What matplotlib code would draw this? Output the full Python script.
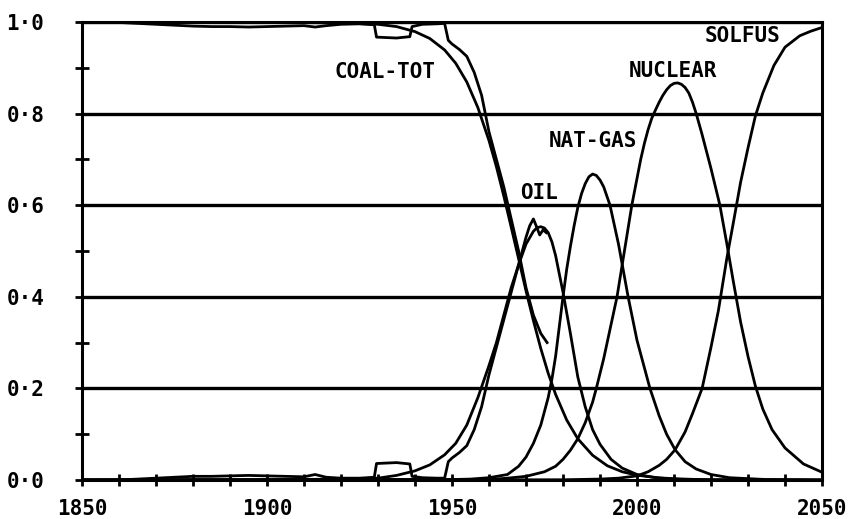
import matplotlib
matplotlib.use("Agg")
import matplotlib.pyplot as plt
from matplotlib.ticker import MultipleLocator, FixedLocator

# ---------------- data ----------------
coal_fit_years = [1850, 1900, 1920, 1930, 1935, 1940, 1944, 1948, 1951, 1954, 1957, 1960,
                  1962, 1964, 1966, 1968, 1970, 1972, 1974, 1976, 1978, 1981, 1984, 1988,
                  1992, 1996, 2000, 2006, 2012, 2020, 2050]
coal_fit = [1.0, 0.9995, 0.998, 0.995, 0.99, 0.979, 0.964, 0.939, 0.91, 0.869, 0.813, 0.741,
            0.684, 0.62, 0.552, 0.483, 0.413, 0.348, 0.287, 0.233, 0.187, 0.131, 0.09, 0.054,
            0.031, 0.018, 0.0105, 0.0046, 0.002, 0.0006, 0.0]

coal_data_years = [1850, 1860, 1865, 1870, 1875, 1880, 1885, 1890, 1895, 1900, 1905, 1910,
                   1913, 1916, 1920, 1925, 1929, 1929.6, 1935, 1938.6, 1939.2, 1942, 1946,
                   1948, 1949, 1950, 1952, 1954, 1956, 1958, 1960, 1962, 1964, 1966, 1968,
                   1970, 1972, 1974, 1975.7]
coal_data = [1.0, 0.999, 0.997, 0.995, 0.993, 0.991, 0.99, 0.99, 0.989, 0.99, 0.991, 0.992,
             0.989, 0.992, 0.995, 0.996, 0.994, 0.967, 0.965, 0.968, 0.99, 0.995, 0.996,
             0.997, 0.96, 0.952, 0.94, 0.925, 0.89, 0.84, 0.76, 0.70, 0.64, 0.57, 0.50,
             0.42, 0.36, 0.32, 0.30]

oil_fit_years = [1850, 1900, 1920, 1930, 1935, 1940, 1944, 1948, 1951, 1954, 1957, 1960, 1962,
                 1964, 1966, 1968, 1970, 1972, 1973, 1974, 1975, 1976, 1977, 1978, 1980, 1982,
                 1984, 1986, 1988, 1990, 1993, 1996, 2000, 2005, 2010, 2020, 2050]
oil_fit = [0.0, 0.0005, 0.002, 0.004, 0.01, 0.02, 0.033, 0.055, 0.08, 0.12, 0.18, 0.25, 0.30,
           0.36, 0.42, 0.47, 0.515, 0.543, 0.551, 0.553, 0.55, 0.54, 0.52, 0.49, 0.41, 0.32,
           0.225, 0.16, 0.11, 0.078, 0.045, 0.026, 0.012, 0.005, 0.002, 0.0005, 0.0]

oil_data_years = [1850, 1860, 1865, 1870, 1875, 1880, 1885, 1890, 1895, 1900, 1905, 1910,
                  1913, 1916, 1920, 1925, 1929, 1929.6, 1935, 1938.6, 1939.2, 1942, 1946,
                  1948, 1949, 1950, 1952, 1954, 1956, 1958, 1960, 1962, 1964, 1966, 1968,
                  1970, 1971, 1972, 1973, 1973.7, 1974.6, 1975.5]
oil_data = [0.0, 0.0, 0.002, 0.004, 0.006, 0.008, 0.008, 0.009, 0.01, 0.009, 0.008, 0.007,
            0.012, 0.006, 0.004, 0.004, 0.006, 0.036, 0.038, 0.035, 0.008, 0.005, 0.004,
            0.004, 0.04, 0.048, 0.06, 0.075, 0.11, 0.16, 0.23, 0.29, 0.35, 0.41, 0.47,
            0.53, 0.555, 0.57, 0.55, 0.535, 0.546, 0.54]

gas_years = [1850, 1950, 1955, 1960, 1965, 1968, 1970, 1972, 1974, 1976, 1977, 1978, 1979,
             1980, 1981, 1982, 1983, 1984, 1985, 1986, 1987, 1988, 1989, 1990, 1991, 1992.7,
             1995, 1997.6, 2000, 2003.5, 2006, 2008, 2010.3, 2013, 2016, 2020, 2025, 2035, 2050]
gas = [0.0, 0.001, 0.002, 0.005, 0.012, 0.03, 0.05, 0.08, 0.12, 0.18, 0.22, 0.27, 0.335,
       0.40, 0.46, 0.51, 0.555, 0.595, 0.625, 0.647, 0.662, 0.668, 0.665, 0.655, 0.64, 0.60,
       0.515, 0.40, 0.305, 0.20, 0.14, 0.10, 0.066, 0.04, 0.024, 0.012, 0.005, 0.001, 0.0]

nuclear_years = [1850, 1960, 1965, 1970, 1975, 1978, 1980, 1982, 1984, 1986, 1988, 1989, 1991,
                 1993, 1994.6, 1996.6, 1998.6, 2001, 2002, 2003, 2004, 2005, 2006, 2007, 2008,
                 2009, 2010, 2011, 2012, 2013, 2014, 2015, 2016, 2017.5, 2020, 2022.4, 2024.3,
                 2026, 2028, 2030, 2032, 2034, 2036.5, 2040, 2045, 2050]
nuclear = [0.0, 0.001, 0.004, 0.008, 0.018, 0.03, 0.045, 0.065, 0.09, 0.125, 0.17, 0.20, 0.265,
           0.34, 0.40, 0.50, 0.60, 0.70, 0.735, 0.765, 0.79, 0.808, 0.825, 0.84, 0.852,
           0.861, 0.866, 0.867, 0.864, 0.857, 0.845, 0.825, 0.80, 0.757, 0.68, 0.60, 0.515,
           0.435, 0.345, 0.27, 0.205, 0.155, 0.11, 0.07, 0.035, 0.017]

solfus_years = [1850, 1980, 1990, 1995, 2000, 2003, 2006, 2008, 2010.3, 2013, 2015, 2017.6,
                2020, 2022, 2024.3, 2026, 2028, 2030, 2032, 2034, 2037, 2040, 2044, 2047, 2050]
solfus = [0.0, 0.0005, 0.002, 0.004, 0.009, 0.018, 0.032, 0.045, 0.066, 0.105, 0.145, 0.20,
          0.29, 0.37, 0.485, 0.56, 0.65, 0.725, 0.795, 0.845, 0.905, 0.945, 0.97, 0.98, 0.988]

labels = ["COAL-TOT", "OIL", "NAT-GAS", "NUCLEAR", "SOLFUS"]
label_x = [1931.9, 1973.4, 1988.1, 2009.7, 2028.5]
label_y = [0.89, 0.627, 0.74, 0.893, 0.97]

x_major = [1850, 1900, 1950, 2000, 2050]
y_major = [0.0, 0.2, 0.4, 0.6, 0.8, 1.0]

# ---------------- figure ----------------
FONT = ["DejaVu Sans Mono", "DejaVu Sans"]
fig = plt.figure(figsize=(8.5, 5.19), dpi=100)
ax = fig.add_axes([82 / 850, 39 / 519, 740 / 850, 458 / 519])

lw_curve = 2.0
for yv in y_major[1:]:
    ax.axhline(yv, color="black", lw=2.4, zorder=1)

ax.plot(coal_fit_years, coal_fit, color="black", lw=lw_curve, zorder=3)
ax.plot(coal_data_years, coal_data, color="black", lw=lw_curve, zorder=3)
ax.plot(oil_fit_years, oil_fit, color="black", lw=lw_curve, zorder=3)
ax.plot(oil_data_years, oil_data, color="black", lw=lw_curve, zorder=3)
ax.plot(gas_years, gas, color="black", lw=lw_curve, zorder=3)
ax.plot(nuclear_years, nuclear, color="black", lw=lw_curve, zorder=3)
ax.plot(solfus_years, solfus, color="black", lw=lw_curve, zorder=3)

for t, x, y in zip(labels, label_x, label_y):
    ax.text(x, y, t, ha="center", va="center", fontsize=15, fontweight="bold",
            family=FONT, zorder=4)

ax.set_xlim(1850, 2050)
ax.set_ylim(0, 1.0)

for s in ["left", "bottom", "right", "top"]:
    ax.spines[s].set_linewidth(2.2)
    ax.spines[s].set_color("black")

ax.xaxis.set_major_locator(FixedLocator(x_major))
ax.xaxis.set_minor_locator(MultipleLocator(10))
ax.yaxis.set_major_locator(FixedLocator(y_major))
ax.yaxis.set_minor_locator(MultipleLocator(0.1))
ax.set_xticklabels([str(v) for v in x_major])
ax.set_yticklabels([f"{v:.1f}".replace(".", "\u00b7") for v in y_major])

ax.tick_params(axis="both", which="both", direction="inout", color="black", width=2.0)
ax.tick_params(axis="x", which="major", length=9, pad=9)
ax.tick_params(axis="x", which="minor", length=8)
ax.tick_params(axis="y", which="major", length=10, pad=22)
ax.tick_params(axis="y", which="minor", length=10)
for lab in ax.get_xticklabels() + ax.get_yticklabels():
    lab.set_fontfamily(FONT)
    lab.set_fontweight("bold")
    lab.set_fontsize(15)

fig.savefig("out.png", dpi=100, facecolor="white")
